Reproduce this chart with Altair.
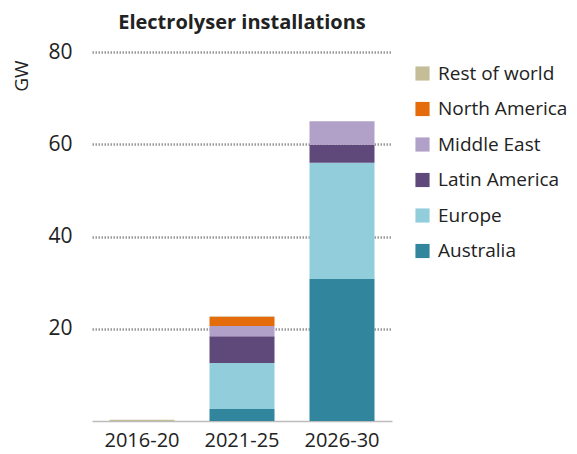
import altair as alt
import pandas as pd

periods = ["2016-20", "2021-25", "2026-30"]
regions = ["Rest of world", "North America", "Middle East", "Latin America", "Europe", "Australia"]
colors = ["#C4BD97", "#E46C0A", "#B1A0C7", "#5F497A", "#92CDDC", "#31859C"]
australia = [0.0, 2.6, 30.8]
europe = [0.0, 10.0, 25.2]
latin_america = [0.0, 5.8, 3.9]
middle_east = [0.0, 2.2, 5.1]
north_america = [0.0, 2.0, 0.0]
rest_of_world = [0.25, 0.1, 0.0]

series = {
    "Australia": australia,
    "Europe": europe,
    "Latin America": latin_america,
    "Middle East": middle_east,
    "North America": north_america,
    "Rest of world": rest_of_world,
}
rows = []
for i, (name, vals) in enumerate(series.items()):
    for p, v in zip(periods, vals):
        rows.append({"period": p, "region": name, "value": v, "order": i})
df = pd.DataFrame(rows)

font = "Open Sans"

chart = alt.Chart(df).mark_bar().encode(
    x=alt.X("period:N", sort=periods,
            scale=alt.Scale(paddingInner=0.35, paddingOuter=0.175),
            axis=alt.Axis(title=None, labelAngle=0, labelFontSize=20, labelColor="#222",
                          labelFont=font, ticks=False, domainColor="#bbbbbb", domainWidth=1.5,
                          labelPadding=9)),
    y=alt.Y("value:Q", stack="zero", scale=alt.Scale(domain=[0, 80]),
            axis=alt.Axis(title="GW", values=[20, 40, 60, 80], labelFontSize=21, labelColor="#222",
                          labelFont=font, titleFont=font, titleFontSize=19, titleFontWeight="normal",
                          titleColor="#222", titleAnchor="end", titleX=-61, titleY=8,
                          ticks=False, domain=False, labelPadding=20,
                          grid=True, gridColor="#999999", gridDash=[1.5, 1.5], gridWidth=2.5)),
    color=alt.Color("region:N", scale=alt.Scale(domain=regions, range=colors),
                    legend=alt.Legend(title=None, orient="none", legendX=321, legendY=12,
                                      symbolType="square", symbolSize=200, symbolStrokeWidth=0,
                                      labelFontSize=19, labelFont=font, labelColor="#222",
                                      rowPadding=15.5, symbolOpacity=1, labelOffset=6)),
    order=alt.Order("order:Q", sort="ascending"),
).properties(
    width=300, height=369,
    title=alt.TitleParams("Electrolyser installations", fontSize=20, font=font, fontWeight="bold",
                          color="#222", anchor="middle", offset=8),
    autosize=alt.AutoSizeParams(type="none"),
    padding={"left": 84, "top": 44, "right": 176, "bottom": 30},
).configure_view(stroke=None)

chart.save("out.html", embed_options={"renderer": "svg", "actions": False})
